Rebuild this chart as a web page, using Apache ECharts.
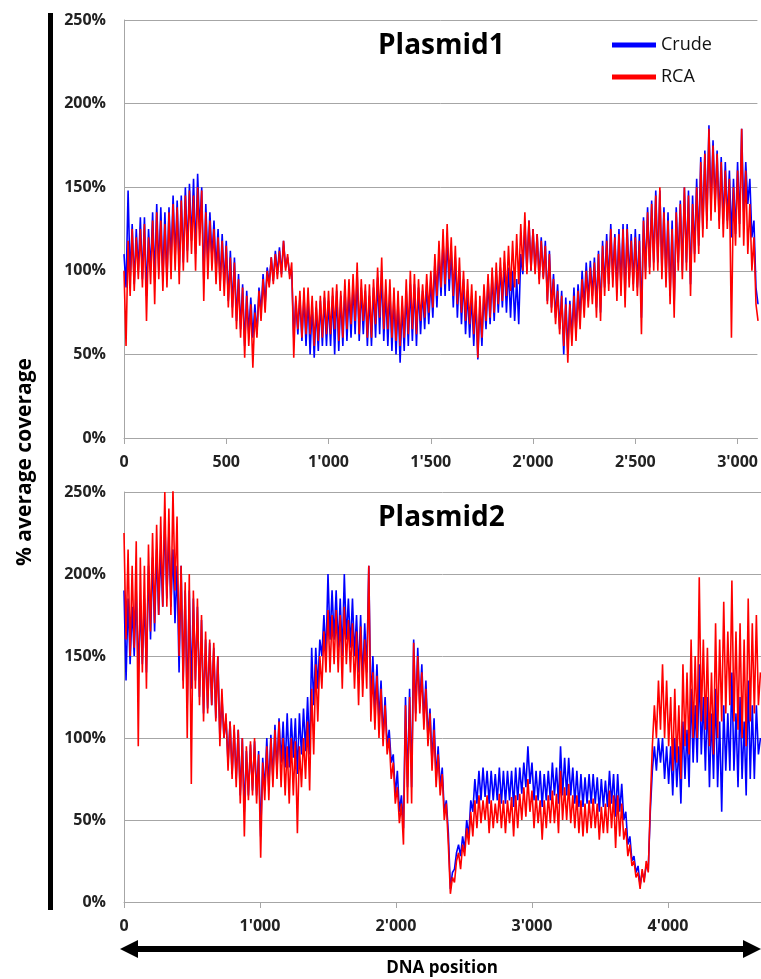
<!DOCTYPE html>
<html>
<head>
<meta charset="utf-8">
<script src="https://cdn.jsdelivr.net/npm/echarts@6/dist/echarts.min.js"></script>
<style>
html,body{margin:0;padding:0;background:#fff;}
#chart{width:761px;height:979px;}
</style>
</head>
<body>
<div id="chart"></div>
<script>
const P1_STEP = 10;
const P2_STEP = 15;

// Plasmid1 – % average coverage
const plasmid1Crude = [
110,90,148,95,128,92,125,100,132,95,
132,85,125,100,135,95,140,100,138,95,
135,95,138,105,145,108,142,100,145,105,
150,112,152,118,155,110,158,125,150,95,
140,105,135,108,130,100,125,92,122,92,
118,82,112,78,108,70,98,65,92,55,
88,62,84,60,80,62,90,75,98,80,
102,92,108,94,112,98,114,98,118,102,
108,98,100,60,82,62,84,58,85,55,
85,50,80,48,78,52,82,55,84,55,
82,55,85,50,88,52,85,55,90,58,
88,60,92,62,98,58,90,62,88,55,
85,55,90,60,96,62,100,58,88,55,
88,52,85,50,82,45,80,52,88,55,
92,58,92,55,90,62,88,65,92,68,
95,72,105,78,110,85,118,85,120,88,
112,78,108,72,100,68,95,62,88,60,
85,55,82,47,80,55,88,65,95,68,
98,70,100,75,102,78,105,75,102,72,
100,70,95,68,110,98,128,100,130,100,
125,100,122,95,120,96,118,82,112,78,
98,72,92,65,88,50,84,52,82,60,
90,62,92,72,100,78,105,82,106,85,
108,78,112,75,118,90,122,92,128,95,
122,88,125,90,128,85,128,95,122,92,
125,90,122,72,132,100,138,102,142,105,
148,105,148,100,138,95,135,85,130,80,
138,105,142,100,150,105,148,92,145,110,
155,115,168,125,172,130,187,138,178,140,
172,130,168,128,165,130,160,120,155,122,
165,128,185,135,165,140,155,120,130,90,
80
];
const plasmid1RCA = [
100,55,118,85,125,88,120,95,125,90,
128,70,120,92,130,80,135,95,130,88,
128,90,135,95,140,100,138,92,142,100,
145,105,148,110,145,100,150,115,148,82,
135,95,130,100,125,92,120,88,118,85,
115,78,108,72,105,65,95,60,90,48,
85,55,80,42,75,60,88,70,95,75,
100,90,108,92,110,95,112,96,118,100,
110,95,105,48,85,65,88,60,90,62,
90,62,85,55,82,58,85,60,88,62,
88,62,90,65,92,58,88,60,95,65,
95,68,98,70,105,62,95,70,92,60,
92,60,95,68,102,72,108,65,95,65,
95,60,90,58,88,55,85,60,95,62,
100,65,98,62,95,70,92,72,98,75,
100,78,110,85,118,90,125,92,128,95,
120,85,115,80,108,75,100,70,95,68,
92,62,88,48,85,60,92,70,98,72,
102,75,105,80,108,82,112,85,115,88,
118,90,122,92,128,100,135,98,130,100,
125,98,122,92,118,95,115,80,110,75,
95,68,88,62,85,55,80,45,80,55,
85,58,88,65,95,72,100,78,102,80,
105,72,110,70,115,85,118,88,125,90,
120,82,122,85,125,78,125,90,118,88,
120,85,118,62,130,95,135,98,140,100,
145,100,150,95,135,90,130,80,125,72,
135,100,140,95,150,100,145,85,140,105,
150,110,165,120,170,125,185,130,175,135,
170,125,165,120,160,125,155,60,150,115,
160,120,185,115,160,110,140,100,120,80,
70
];

// Plasmid2 – % average coverage
const plasmid2Crude = [
190,135,185,145,180,150,190,140,180,145,
185,140,205,160,210,165,215,175,215,180,
235,185,225,180,215,170,205,140,205,135,
190,120,190,130,185,135,180,125,172,115,
160,118,158,120,155,112,150,100,125,100,
112,85,110,78,105,75,105,65,100,55,
92,65,96,68,98,65,92,40,88,68,
100,70,102,75,108,80,112,85,110,82,
115,82,112,88,112,78,115,90,118,92,
125,90,155,120,155,130,160,150,175,150,
200,160,190,160,190,155,185,150,200,160,
185,155,185,150,175,140,175,135,170,140,
205,120,150,115,145,110,135,100,125,95,
105,85,90,65,80,55,65,45,125,70,
130,70,160,115,155,120,145,110,135,100,
118,85,112,75,95,70,82,55,62,42,
8,18,20,30,35,28,40,32,50,40,
62,55,75,60,80,62,82,64,80,60,
80,62,78,62,82,60,80,60,80,62,
80,58,82,62,82,66,85,70,95,72,
85,62,80,62,80,58,78,62,80,62,
85,65,82,60,95,65,88,65,88,65,
82,60,80,58,78,58,76,60,78,60,
78,60,76,55,75,58,74,58,80,60,
78,52,78,55,72,50,55,35,40,25,
28,18,22,10,18,14,22,20,55,80,
95,80,100,85,100,75,95,72,95,65,
100,70,95,60,110,75,105,70,130,85,
120,85,145,90,125,80,125,70,115,75,
130,70,110,55,120,80,115,80,140,80,
115,70,125,75,110,65,135,75,120,75,
120,90,100
];
const plasmid2RCA = [
225,160,215,150,205,155,220,95,210,140,
205,130,218,165,225,170,230,175,235,180,
250,180,240,175,252,190,235,150,205,130,
195,100,200,72,190,130,185,120,175,110,
165,115,160,120,158,110,150,95,130,100,
115,80,110,75,108,70,105,60,100,40,
95,62,98,65,100,60,90,27,85,62,
95,62,100,70,105,75,110,70,100,65,
95,60,100,65,98,42,95,70,100,75,
110,68,130,90,145,110,150,130,165,140,
178,140,175,145,178,140,175,130,180,145,
172,140,170,130,165,120,168,125,160,130,
205,110,140,105,138,100,130,95,120,90,
100,75,85,60,70,48,60,35,120,60,
125,60,158,110,150,115,140,105,130,95,
115,80,105,70,90,65,78,50,60,35,
5,15,12,25,30,20,35,28,45,35,
55,40,62,45,65,48,62,50,65,42,
62,45,60,48,66,45,62,42,62,48,
64,40,65,45,66,50,70,52,75,55,
68,45,65,48,62,38,62,45,65,48,
68,48,66,42,80,50,70,50,72,48,
65,45,65,42,62,40,60,42,62,45,
63,45,60,38,58,42,60,42,68,45,
65,33,65,40,60,38,45,28,35,22,
25,15,18,8,20,12,25,18,60,95,
120,100,135,105,145,100,135,95,125,80,
130,85,120,75,145,95,140,90,160,100,
150,100,198,110,160,105,155,95,140,90,
170,100,160,110,183,115,165,120,196,110,
165,105,170,100,160,95,185,110,170,115,
175,120,140
];

// Axis tick labels
const p1Ticks = [0, 500, 1000, 1500, 2000, 2500, 3000];
const p2Ticks = [0, 1000, 2000, 3000, 4000];
const p1Max = 3097;
const p2Max = 4684;

function fmtPos(v) {
  if (v < 1000) return String(v);
  const t = Math.floor(v / 1000), r = v % 1000;
  return t + "'" + String(r).padStart(3, '0');
}
function pairs(arr, step) { return arr.map((v, i) => [i * step, v]); }

const FONT = 'Open Sans';
const gridColor = '#a6a6a6';

function xAxisCfg(gridIndex, max, ticks) {
  return {
    type: 'value', gridIndex: gridIndex, min: 0, max: max,
    axisLine: { show: true, onZero: false, lineStyle: { color: gridColor, width: 1 } },
    axisTick: { show: true, length: 6, customValues: ticks, lineStyle: { color: gridColor } },
    axisLabel: { customValues: ticks, formatter: fmtPos, margin: 16,
      fontFamily: FONT, fontWeight: 'bold', fontSize: 16, color: '#222' },
    splitLine: { show: false }
  };
}
function yAxisCfg(gridIndex) {
  return {
    type: 'value', gridIndex: gridIndex, min: 0, max: 250, interval: 50,
    axisLine: { show: true, lineStyle: { color: gridColor, width: 1 } },
    axisTick: { show: false },
    axisLabel: { formatter: '{value}%', margin: 18,
      fontFamily: FONT, fontWeight: 'bold', fontSize: 16, color: '#222' },
    splitLine: { show: true, lineStyle: { color: gridColor, width: 1 } }
  };
}
function lineSeries(name, color, data, idx) {
  return {
    name: name, type: 'line', xAxisIndex: idx, yAxisIndex: idx,
    data: data, showSymbol: false, symbol: 'none',
    lineStyle: { color: color, width: 1.6 }, itemStyle: { color: color },
    animation: false
  };
}

const chart = echarts.init(document.getElementById('chart'), null, { renderer: 'canvas' });
chart.setOption({
  animation: false,
  backgroundColor: '#fff',
  grid: [
    { left: 124, top: 20, width: 637, height: 418 },
    { left: 124, top: 492, width: 637, height: 410 }
  ],
  title: [
    { text: 'Plasmid1', left: 378, top: 32, padding: 0,
      textStyle: { fontFamily: FONT, fontWeight: 'bold', fontSize: 28, color: '#000' } },
    { text: 'Plasmid2', left: 378, top: 504, padding: 0,
      textStyle: { fontFamily: FONT, fontWeight: 'bold', fontSize: 28, color: '#000' } }
  ],
  legend: {
    orient: 'vertical', left: 612, top: 34, padding: 0,
    itemWidth: 44, itemHeight: 5, itemGap: 10, icon: 'rect',
    data: ['Crude', 'RCA'],
    textStyle: { fontFamily: FONT, fontSize: 18, color: '#111', lineHeight: 22 }
  },
  xAxis: [ xAxisCfg(0, p1Max, p1Ticks), xAxisCfg(1, p2Max, p2Ticks) ],
  yAxis: [ yAxisCfg(0), yAxisCfg(1) ],
  series: [
    lineSeries('Crude', '#0000ff', pairs(plasmid1Crude, P1_STEP), 0),
    lineSeries('RCA', '#ff0000', pairs(plasmid1RCA, P1_STEP), 0),
    lineSeries('Crude', '#0000ff', pairs(plasmid2Crude, P2_STEP), 1),
    lineSeries('RCA', '#ff0000', pairs(plasmid2RCA, P2_STEP), 1)
  ],
  graphic: [
    { type: 'rect', shape: { x: 48, y: 13, width: 5, height: 897 }, style: { fill: '#000' } },
    { type: 'text', x: 25, y: 462, rotation: Math.PI / 2,
      style: { text: '% average coverage', fontFamily: FONT, fontWeight: 'bold', fontSize: 21,
        fill: '#000', align: 'center', verticalAlign: 'middle' } },
    { type: 'rect', shape: { x: 134, y: 946, width: 616, height: 6 }, style: { fill: '#000' } },
    { type: 'polygon', shape: { points: [[120, 949], [138, 940], [138, 958]] }, style: { fill: '#000' } },
    { type: 'polygon', shape: { points: [[761, 949], [743, 940], [743, 958]] }, style: { fill: '#000' } },
    { type: 'text', x: 442, y: 968,
      style: { text: 'DNA position', fontFamily: FONT, fontWeight: 'bold', fontSize: 17,
        fill: '#000', align: 'center', verticalAlign: 'middle' } }
  ]
});
</script>
</body>
</html>
